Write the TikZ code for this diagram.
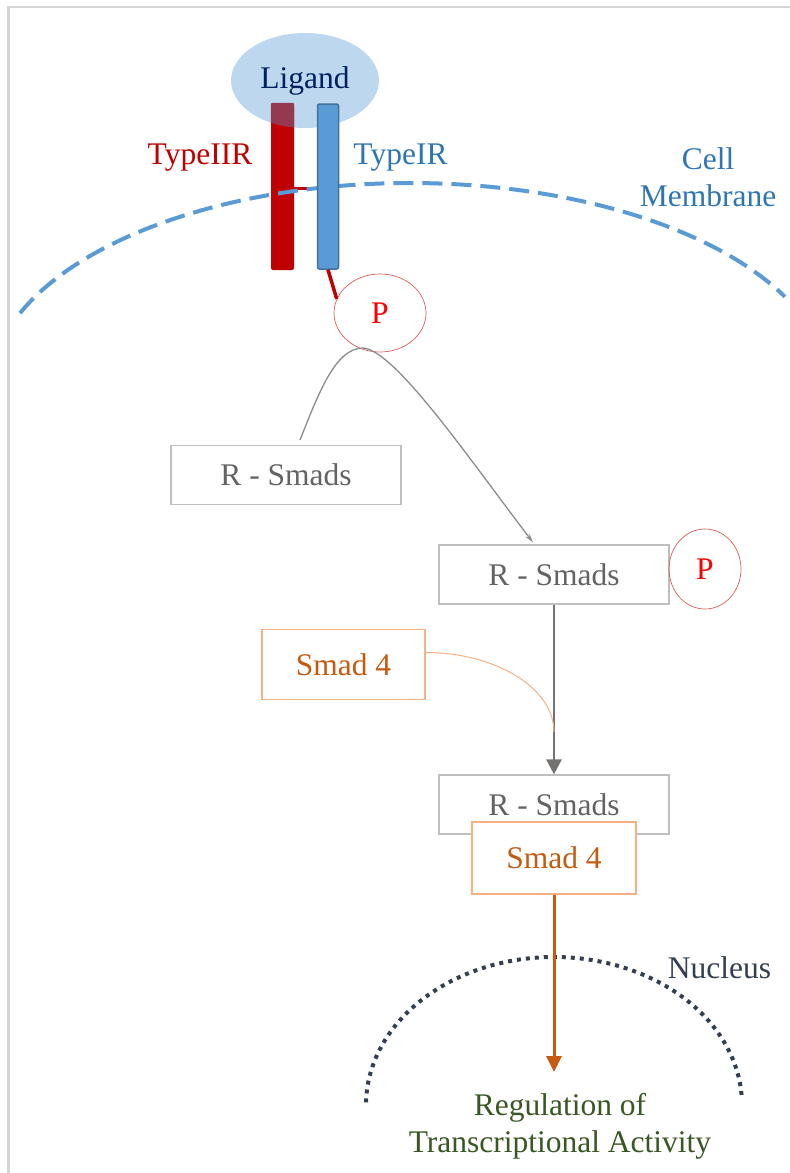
\documentclass[tikz,border=0pt]{standalone}
\usepackage{fontspec}
\setmainfont{Liberation Serif}
\usetikzlibrary{arrows.meta,shapes.geometric}
\definecolor{ligfill}{HTML}{BDD7EE}
\definecolor{ligtext}{HTML}{002060}
\definecolor{tiirfill}{HTML}{C00000}
\definecolor{tiirover}{HTML}{943950}
\definecolor{tirfill}{HTML}{5B9BD5}
\definecolor{tirborder}{HTML}{41719C}
\definecolor{tirtext}{HTML}{2E75B6}
\definecolor{membr}{HTML}{5B9BD5}
\definecolor{rsborder}{HTML}{BFBFBF}
\definecolor{rstext}{HTML}{636363}
\definecolor{pborder}{HTML}{E05A5A}
\definecolor{ptext}{HTML}{FF0000}
\definecolor{s4border}{HTML}{F4B183}
\definecolor{s4text}{HTML}{C55A11}
\definecolor{grayarr}{HTML}{767171}
\definecolor{graycurve}{HTML}{8C8C8C}
\definecolor{nuc}{HTML}{333F50}
\definecolor{regtext}{HTML}{385723}
\definecolor{framegray}{HTML}{D4D4D4}
\tikzset{
  lbl/.style={font=\fontsize{31.5}{37}\selectfont, inner sep=0pt},
  rsbox/.style={lbl, draw=rsborder, line width=1.2pt, text=rstext, fill=white,
    minimum width=230pt, minimum height=59pt},
  s4box/.style={lbl, draw=s4border, line width=1.2pt, text=s4text, fill=white,
    minimum width=163pt, minimum height=70pt},
  pcirc/.style={lbl, ellipse, draw=pborder, line width=0.7pt, text=ptext},
  barnode/.style={rectangle, rounded corners=2pt, inner sep=0pt},
}
\begin{document}
\begin{tikzpicture}[x=1pt,y=-1pt]
\useasboundingbox (0,0) rectangle (790,1173);
% frame
\draw[framegray, line width=2.5pt] (8.5,1173) -- (8.5,7) -- (790,7);
% ligand
\node[ellipse, fill=ligfill, minimum width=148pt, minimum height=95pt, inner sep=0pt,
      lbl, text=ligtext] (lig) at (305,80.5) {Ligand};
% type II receptor
\node[barnode, fill=tiirfill, minimum width=23pt, minimum height=167pt] (tIIR) at (282.5,186.5) {};
\begin{scope}
  \clip (305,80.5) ellipse [x radius=74, y radius=47.5];
  \fill[tiirover, rounded corners=2pt] (tIIR.north west) rectangle (tIIR.south east);
\end{scope}
% connector between receptors
\draw[tiirfill, line width=3pt] ([yshift=-1.5pt]tIIR.east) -- ([xshift=-9pt,yshift=-1.5pt]328,186.5);
% cell membrane
\draw[membr, line width=4pt, dash pattern=on 20pt off 9pt]
  plot[domain=201.8:333.2, samples=90, smooth] ({410+420*cos(\x)},{390+207*sin(\x)});
% type I receptor
\node[barnode, fill=tirfill, draw=tirborder, line width=1.5pt, minimum width=21pt, minimum height=165pt] (tIR) at (328,186.5) {};
% labels
\node[lbl, text=tiirfill] (lIIR) at (200,158) {TypeIIR};
\node[lbl, text=tirtext] (lIR) at (400.5,158) {TypeIR};
\node[lbl, text=tirtext, align=center] (lmem) at (708,177) {Cell\\Membrane};
% phosphate 1
\node[pcirc, minimum width=92pt, minimum height=78pt] (p1) at (380,313) {P};
\draw[tiirfill, line width=3.5pt] (tIR.south) -- (p1.162);
% R-Smads
\node[rsbox] (r1) at (286,475) {R - Smads};
\node[rsbox] (r2) at (554,574.5) {R - Smads};
\node[pcirc, minimum width=72pt, minimum height=80pt] (p2) at (705,569) {P};
\node[s4box] (s4a) at (343.5,664.5) {Smad 4};
\node[rsbox] (r3) at (554,804.5) {R - Smads};
\node[s4box, minimum width=164pt, minimum height=72pt] (s4b) at (554,858) {Smad 4};
% gray curve from R-Smads to phosphorylated R-Smads
\coordinate (peak) at (363,348);
\draw[graycurve, line width=1.3pt, -{Stealth[length=9pt,width=5pt]}]
  ([xshift=14pt,yshift=5pt]r1.north) .. controls (318,395) and (335,348) .. (peak)
  .. controls (395,350) and (470,460) .. ([xshift=-21pt,yshift=2pt]r2.north);
% gray arrow
\draw[grayarr, line width=2.6pt, -{Triangle[length=15pt,width=15pt]}] (r2.south) -- (r3.north);
% Smad4 joining curve
\coordinate (join) at (554,732);
\draw[s4border, line width=1pt] ([yshift=12pt]s4a.east) .. controls +(70,0) and +(0,-44) .. (join);
% nucleus
\draw[nuc, line width=4pt, dash pattern=on 4pt off 5pt]
  plot[domain=181:357, samples=90, smooth] ({554+188*cos(\x)},{1105+148*sin(\x)});
\node[lbl, text=nuc] (lnuc) at (719.5,968) {Nucleus};
% output
\node[lbl, text=regtext, align=center] (reg) at (560,1126.5) {Regulation of\\Transcriptional Activity};
\coordinate (tip) at (554,1072);
\draw[s4text, line width=3pt, -{Triangle[length=16pt,width=15pt]}] (s4b.south) -- (tip);
\end{tikzpicture}
\end{document}
